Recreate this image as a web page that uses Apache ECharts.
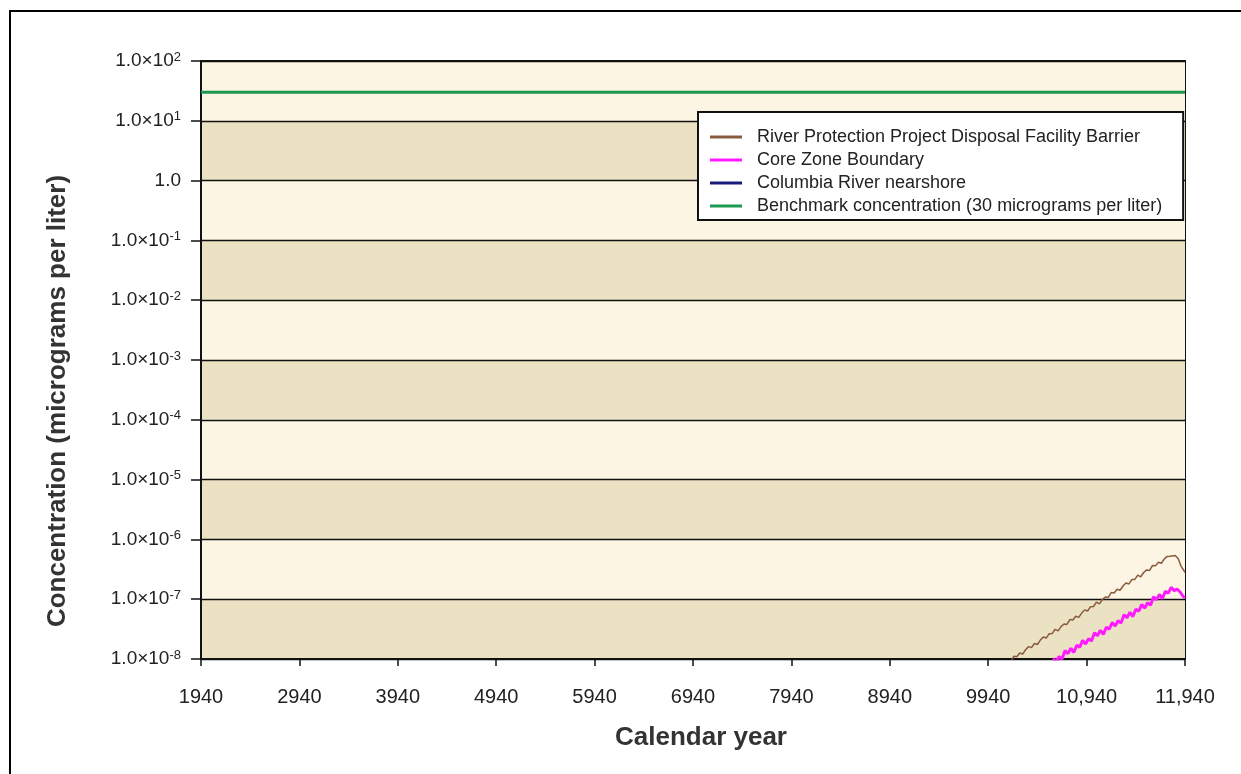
<!DOCTYPE html>
<html>
<head>
<meta charset="utf-8">
<script src="https://cdn.jsdelivr.net/npm/echarts@6/dist/echarts.min.js"></script>
<style>
html,body{margin:0;padding:0;background:#fff;}
#chart{width:1241px;height:774px;}
</style>
</head>
<body>
<div id="chart"></div>
<script>
// ---- Data ----
const seriesNames = [
  'River Protection Project Disposal Facility Barrier',
  'Core Zone Boundary',
  'Columbia River nearshore',
  'Benchmark concentration (30 micrograms per liter)'
];
const xTickValues = [1940, 2940, 3940, 4940, 5940, 6940, 7940, 8940, 9940, 10940, 11940];
const xTickLabels = ['1940', '2940', '3940', '4940', '5940', '6940', '7940', '8940', '9940', '10,940', '11,940'];

const barrierYears = [10140,10170,10200,10230,10260,10290,10320,10350,10380,10410,10440,10470,10500,10530,10560,10590,10620,10650,10680,10710,10740,10770,10800,10830,10860,10890,10920,10950,10980,11010,11040,11070,11100,11130,11160,11190,11220,11250,11280,11310,11340,11370,11400,11430,11460,11490,11520,11550,11580,11610,11640,11670,11700,11730,11760,11790,11810,11840,11870,11900,11940];
const barrierValues = [9.3e-9,9.1e-9,1.11e-8,1.09e-8,1.26e-8,1.21e-8,1.43e-8,1.61e-8,1.55e-8,1.82e-8,1.75e-8,2.07e-8,2.33e-8,2.24e-8,2.65e-8,2.66e-8,3.14e-8,2.95e-8,3.48e-8,3.84e-8,3.78e-8,4.56e-8,4.48e-8,5.18e-8,4.97e-8,5.86e-8,6.62e-8,6.35e-8,7.50e-8,7.55e-8,8.91e-8,8.36e-8,9.89e-8,1.09e-7,1.07e-7,1.29e-7,1.27e-7,1.47e-7,1.41e-7,1.66e-7,1.87e-7,1.80e-7,2.13e-7,2.14e-7,2.53e-7,2.37e-7,2.80e-7,3.09e-7,3.03e-7,3.66e-7,3.61e-7,4.16e-7,3.99e-7,4.72e-7,5.20e-7,5.22e-7,5.62e-7,5.37e-7,4.79e-7,3.55e-7,2.82e-7];

const coreYears = [10600,10630,10660,10690,10720,10750,10780,10810,10840,10870,10900,10930,10960,10990,11020,11050,11080,11110,11140,11170,11200,11230,11260,11290,11320,11350,11380,11410,11440,11470,11500,11530,11560,11590,11620,11650,11680,11710,11740,11770,11800,11830,11860,11890,11920,11940];
const coreValues = [1.02e-8,8.9e-9,1.10e-8,1.00e-8,1.38e-8,1.23e-8,1.51e-8,1.29e-8,1.70e-8,1.58e-8,2.04e-8,1.78e-8,2.19e-8,2.00e-8,2.75e-8,2.45e-8,3.02e-8,2.57e-8,3.39e-8,3.16e-8,4.07e-8,3.55e-8,4.37e-8,3.98e-8,5.50e-8,4.90e-8,6.03e-8,5.13e-8,6.76e-8,6.31e-8,8.13e-8,7.08e-8,8.71e-8,7.94e-8,1.10e-7,9.77e-8,1.20e-7,1.02e-7,1.35e-7,1.26e-7,1.58e-7,1.38e-7,1.48e-7,1.32e-7,1.12e-7,1.05e-7];

const nearshoreYears = [];
const nearshoreValues = [];

const benchmarkYears = [1940, 11940];
const benchmarkValues = [30, 30];

const colors = ['#8a5a3e', '#ff1aff', '#1a1a7a', '#1a9a50'];

function pairs(xs, ys) { return xs.map((x, i) => [x, ys[i]]); }

const FONT = "'Liberation Sans', Arial, sans-serif";

const chart = echarts.init(document.getElementById('chart'), null, {renderer: 'canvas'});

const option = {
  backgroundColor: '#ffffff',
  animation: false,
  grid: {
    left: 201, right: 56, top: 61, bottom: 115,
    show: true, borderColor: '#111', borderWidth: 2, backgroundColor: 'transparent'
  },
  legend: {
    orient: 'vertical',
    left: 698, top: 112,
    padding: [15, 21, 4, 12],
    backgroundColor: '#ffffff',
    borderColor: '#111',
    borderWidth: 2,
    borderRadius: 0,
    itemGap: 3,
    itemWidth: 32,
    itemHeight: 3,
    icon: 'rect',
    data: seriesNames,
    textStyle: {fontFamily: FONT, fontSize: 18, color: '#222', lineHeight: 20, padding: [0, 0, 0, 10]}
  },
  xAxis: {
    type: 'value',
    min: 1940, max: 11940,
    axisLine: {show: true, onZero: false, lineStyle: {color: '#111', width: 2}},
    axisTick: {show: true, customValues: xTickValues, length: 7, lineStyle: {color: '#111', width: 1.5}},
    axisLabel: {
      customValues: xTickValues,
      fontFamily: FONT, fontSize: 20, color: '#222', margin: 28,
      formatter: function (v) { const i = xTickValues.indexOf(v); return i >= 0 ? xTickLabels[i] : ''; }
    },
    splitLine: {show: false}
  },
  yAxis: {
    type: 'log',
    logBase: 10,
    min: 1e-8, max: 100,
    interval: 1,
    splitNumber: 10,
    axisLine: {show: true, lineStyle: {color: '#111', width: 2}},
    axisTick: {show: true, length: 10, lineStyle: {color: '#111', width: 1.5}},
    axisLabel: {
      fontFamily: FONT, color: '#222', margin: 20,
      formatter: function (v) {
        const e = Math.round(Math.log10(v));
        if (e === 0) return '{m|1.0}';
        return '{m|1.0×10}{e|' + (e < 0 ? '-' : '') + Math.abs(e) + '}';
      },
      rich: {
        m: {fontFamily: FONT, fontSize: 19, color: '#222'},
        e: {fontFamily: FONT, fontSize: 13, color: '#222', padding: [0, 0, 8, 0]}
      }
    },
    splitLine: {show: true, lineStyle: {color: '#111', width: 1.3}},
    splitArea: {show: true, areaStyle: {color: ['#ebe1c3', '#fcf5e3']}}
  },
  graphic: [
    {type: 'rect', shape: {x: 10, y: 11, width: 1400, height: 900}, style: {fill: 'none', stroke: '#000', lineWidth: 2}, silent: true, z: 100},
    {type: 'text', x: 58, y: 401, rotation: Math.PI / 2,
      style: {text: 'Concentration (micrograms per liter)', fontFamily: FONT, fontSize: 26, fontWeight: 'bold', fill: '#333', align: 'center', verticalAlign: 'middle'}},
    {type: 'text', x: 701, y: 738,
      style: {text: 'Calendar year', fontFamily: FONT, fontSize: 26, fontWeight: 'bold', fill: '#333', align: 'center', verticalAlign: 'middle'}}
  ],
  series: [
    {name: seriesNames[0], type: 'line', data: pairs(barrierYears, barrierValues), showSymbol: false, symbol: 'none',
      lineStyle: {color: colors[0], width: 1.5}, itemStyle: {color: colors[0]}, clip: true, z: 3},
    {name: seriesNames[1], type: 'line', data: pairs(coreYears, coreValues), showSymbol: false, symbol: 'none',
      lineStyle: {color: colors[1], width: 3}, itemStyle: {color: colors[1]}, clip: true, z: 4},
    {name: seriesNames[2], type: 'line', data: pairs(nearshoreYears, nearshoreValues), showSymbol: false, symbol: 'none',
      lineStyle: {color: colors[2], width: 2}, itemStyle: {color: colors[2]}, clip: true, z: 3},
    {name: seriesNames[3], type: 'line', data: pairs(benchmarkYears, benchmarkValues), showSymbol: false, symbol: 'none',
      lineStyle: {color: colors[3], width: 3}, itemStyle: {color: colors[3]}, clip: true, z: 5}
  ]
};
chart.setOption(option);
</script>
</body>
</html>
